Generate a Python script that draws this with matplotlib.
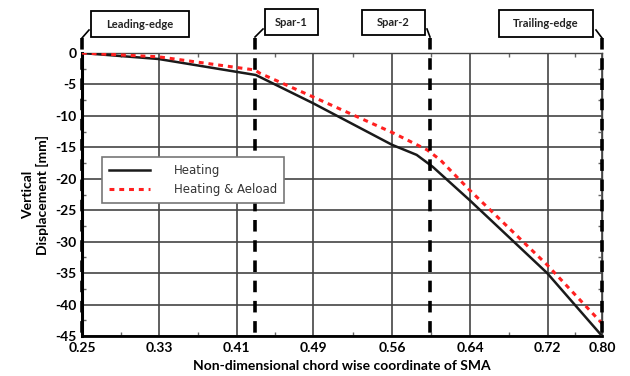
import matplotlib.pyplot as plt
from matplotlib.patches import Rectangle
from matplotlib.lines import Line2D

plt.rcParams['font.family'] = ['Lato', 'DejaVu Sans']
plt.rcParams['axes.unicode_minus'] = False

# data
x_heat = [0.25, 0.331, 0.434, 0.494, 0.578, 0.604, 0.621, 0.660, 0.742, 0.80]
y_heat = [0.0, -0.95, -3.5, -7.95, -14.6, -16.2, -18.1, -23.4, -35.0, -45.0]
x_aero = [0.25, 0.331, 0.433, 0.438, 0.494, 0.579, 0.615, 0.629, 0.660, 0.742, 0.80]
y_aero = [0.0, -0.6, -2.7, -3.2, -6.95, -12.7, -15.4, -17.0, -21.8, -33.7, -43.0]

tick_pos = [0.25, 0.3318, 0.4137, 0.4947, 0.5782, 0.6604, 0.7425, 0.80]
tick_labels = ['0.25', '0.33', '0.41', '0.49', '0.56', '0.64', '0.72', '0.80']
y_ticks = [0, -5, -10, -15, -20, -25, -30, -35, -40, -45]

sections = ['Leading-edge', 'Spar-1', 'Spar-2', 'Trailing-edge']
section_x = [0.25, 0.433, 0.618, 0.80]

W, H = 630, 376
fig = plt.figure(figsize=(6.3, 3.76), dpi=100)
ax = fig.add_axes([0.130, 0.1064, 0.8256, 0.7526])

ax.set_xlim(0.25, 0.80)
ax.set_ylim(-45, 0)
ax.set_xticks(tick_pos)
ax.set_xticklabels(tick_labels, fontweight='bold', fontsize=10)
ax.set_yticks(y_ticks)
ax.set_yticklabels([str(v) for v in y_ticks], fontweight='bold', fontsize=10)
mid_x = [(a + b) / 2 for a, b in zip(tick_pos[:-1], tick_pos[1:])]
ax.set_xticks(mid_x, minor=True)
ax.set_yticks([v - 2.5 for v in y_ticks[:-1]], minor=True)
ax.tick_params(which='both', direction='in', top=True, right=True)
ax.tick_params(which='major', length=0, pad=4)
ax.tick_params(which='minor', length=3, width=1, color='#666666')
ax.grid(True, which='major', color='#444444', linewidth=1.2)

for side in ['top', 'right']:
    ax.spines[side].set_linewidth(1.0)
    ax.spines[side].set_color('#444444')
ax.spines['left'].set_linewidth(2.2)
ax.spines['bottom'].set_linewidth(2.0)

ax.plot(x_heat, y_heat, color='#1a1a1a', linewidth=1.8, label='Heating', zorder=4)
ax.plot(x_aero, y_aero, color='#ff2020', linewidth=2.2, linestyle=(0, (1.6, 1.6)),
        label='Heating & Aeload', zorder=4)

# section markers (dashed lines reach above the axes)
for sx in section_x:
    ax.plot([sx, sx], [2.4, -45], color='black', linewidth=2.6,
            linestyle=(0, (3.2, 2.4)), clip_on=False, zorder=5)

# callout boxes, in pixel coordinates (left, top, right, bottom), and tail ends
boxes = [(91, 11, 189, 37), (265, 9, 318, 35), (362, 10, 425, 35), (499, 10, 593, 37)]
tails = [((89, 30), (82, 38)), ((263, 29), (255, 37)),
         ((427, 29), (430, 37)), ((596, 30), (602, 38))]
for name, (l, t, r, b), (p0, p1) in zip(sections, boxes, tails):
    fig.patches.append(Rectangle((l / W, 1 - b / H), (r - l) / W, (b - t) / H,
                                 transform=fig.transFigure, fc='white', ec='black',
                                 lw=1.3))
    fig.text((l + r) / 2 / W, 1 - (t + b) / 2 / H, name, ha='center', va='center',
             fontsize=8, fontweight='bold', color='#222222')
    fig.lines.append(Line2D([p0[0] / W, p1[0] / W], [1 - p0[1] / H, 1 - p1[1] / H],
                            transform=fig.transFigure, color='black', lw=1.2))

leg = ax.legend(loc='upper left', bbox_to_anchor=(0.027, 0.652), fancybox=False,
                framealpha=1, edgecolor='#777777', handlelength=3.5, handletextpad=2.0,
                borderpad=0.6, labelspacing=0.5,
                prop={'family': 'DejaVu Sans', 'size': 8.5})
leg.get_frame().set_linewidth(1.2)
for t in leg.get_texts():
    t.set_color('#333333')
leg.set_zorder(6)

ax.set_xlabel('Non-dimensional chord wise coordinate of SMA', fontweight='bold',
              fontsize=10, labelpad=5)
ax.set_ylabel('Vertical\nDisplacement [mm]', fontweight='bold', fontsize=10,
              labelpad=4)

fig.savefig('out.png', dpi=100)
